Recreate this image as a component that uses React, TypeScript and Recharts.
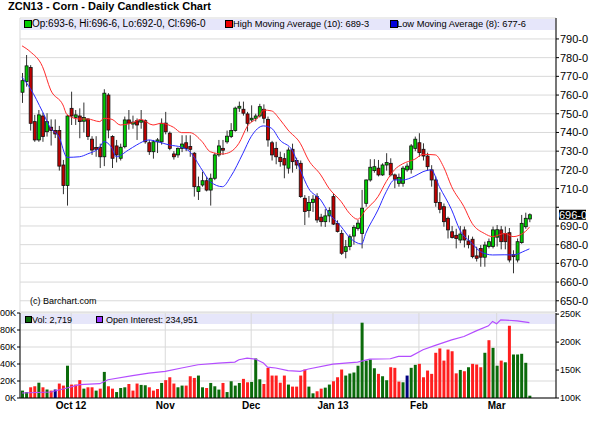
import React from 'react';
import { ComposedChart, Bar, Line, XAxis, YAxis, CartesianGrid, ReferenceLine, Cell } from 'recharts';

const FONT = '"Liberation Sans", Arial, sans-serif';

// daily OHLC (cents/bu, decimals = eighths)
const opens = [
  761.5, 767.2, 774.7, 745.8, 736, 748.8, 740.4, 742.8, 741, 741,
  722.6, 711.6, 752.9, 748, 748.8, 746, 747.2, 736.4, 732, 732.1,
  727, 760, 737.8, 732.8, 726.2, 732.4, 746.7, 744.5, 746.3, 745.5,
  746.3, 734.5, 729.7, 735, 735, 745, 739.6, 728.5, 728, 731.5,
  734.5, 732.5, 728.9, 708.4, 711.9, 714.2, 709.2, 715.5, 728, 731.5,
  735, 737.8, 741, 753, 752.4, 749.9, 746.7, 747.6, 748.8, 752.4,
  747, 734.5, 731.5, 726.7, 726, 720.9, 731, 725, 723.5, 704.8,
  698.2, 702.5, 705.7, 694.7, 692.3, 695.4, 705.7, 691.4, 686, 676.3,
  679, 684.6, 688.7, 686, 702.1, 714.6, 719.6, 720.9, 717.3, 722.6,
  723.5, 717.3, 712.8, 712.8, 720, 720.3, 731.5, 734.5, 731, 727.4,
  720, 714.6, 702.5, 700.3, 694.1, 686.9, 685, 682.5, 687.9, 682,
  682.9, 674, 678, 673.3, 679, 679, 684, 687.9, 686, 686.4,
  674.6, 671.8, 681.1, 689.6, 693.75,
];
const highs = [
  771.8, 781.4, 776, 749.4, 752, 750.5, 750.3, 747, 747, 743.5,
  725.3, 749.4, 761.8, 752, 752.9, 756, 747.6, 738, 738, 734,
  763.1, 761, 738.5, 736, 734, 748.5, 752, 749, 747.5, 752,
  747, 736, 736, 737, 747.5, 751, 740.5, 730, 732, 738.5,
  738.5, 738.5, 729.5, 716.4, 719, 716.4, 718, 729, 736, 736,
  741, 745, 753.8, 756.5, 756.5, 751, 754.5, 750, 755.3, 755,
  748.5, 735.5, 735, 729.7, 728.9, 732, 734, 726.5, 725, 706.5,
  706, 706.5, 707.5, 696.5, 699, 700, 707.5, 693, 687.9, 682.5,
  685.5, 690.5, 693.2, 709.3, 714.8, 725.7, 725.7, 725.3, 723.5, 728.9,
  726.2, 718, 718, 722, 723.5, 733.8, 737.8, 739.6, 734.2, 729.2,
  722.5, 716.5, 708, 702, 695, 690, 688.5, 690, 689.7, 685,
  684.3, 678.9, 679.8, 681.6, 683.3, 689.7, 690.5, 690, 689.7, 688.9,
  677, 683.3, 695.9, 697.1, 696.75,
];
const lows = [
  755.8, 764.5, 741, 735, 735, 735, 737.8, 733, 737, 719.6,
  707, 700.9, 744, 744, 736.9, 740, 736, 728, 727, 721,
  722, 736.9, 721, 724, 725, 731.5, 741.5, 742, 736, 742,
  734, 728, 726, 729, 733.5, 739, 730.5, 725.5, 726.5, 729.5,
  730, 727, 705.7, 703.9, 711, 708.5, 700.9, 714.5, 727, 728,
  734, 737, 740.4, 751, 749, 740.5, 745.5, 745.9, 748, 744.9,
  732.4, 725, 723, 721.7, 715.5, 718, 718.5, 720.5, 705, 690.5,
  694.5, 697.5, 691.7, 689.7, 689.5, 692, 690.5, 686.5, 674.5, 672.7,
  677, 680, 687.5, 678, 700.3, 713.7, 718.5, 716.5, 716.8, 719.6,
  716.5, 710.2, 711, 711, 719, 718, 730, 727, 725, 719.6,
  711, 700.3, 696.8, 689.6, 683.3, 683.3, 678, 680.8, 678.5, 678,
  672.7, 671, 668.2, 668.2, 678, 678, 679, 677.5, 677.5, 670.5,
  664.7, 670.5, 680.5, 688.5, 692,
];
const closes = [
  767.7, 775.6, 744.9, 736, 749.4, 737.8, 745.8, 741, 739.2, 722,
  711.6, 748.8, 748.8, 749.4, 745.8, 748, 737.8, 730.6, 731, 727,
  761, 741.3, 726.2, 728, 732.1, 746.7, 744.9, 745.5, 744, 746.5,
  735, 729.7, 735, 736, 744.9, 740.4, 731.5, 727, 731.5, 733.8,
  731.5, 731, 711, 711, 714.2, 709.2, 715.5, 728, 732.8, 730.5,
  738, 741, 753, 754, 750.3, 744.9, 747.6, 748.8, 753.8, 747.6,
  736, 728, 727, 724.4, 722.6, 730.6, 724.4, 722.6, 705.7, 697.7,
  702.5, 704.3, 693.2, 692.3, 695.4, 698.2, 691, 687, 675.4, 678.9,
  684.3, 689.3, 691.5, 699.5, 714.6, 721.4, 721.7, 717.3, 722.6, 723.9,
  717.3, 715, 716, 720.9, 722, 732.8, 736.4, 729.2, 727.4, 721.7,
  714.6, 702.5, 698.9, 692.3, 687.9, 683.8, 683.3, 685.7, 682.5, 680,
  673.6, 672.7, 673.3, 679.8, 681.6, 687.9, 688, 681.6, 681.6, 671.8,
  673.6, 681.6, 691.4, 694.1, 696,
];

// volume in thousands, direction g/r/n
const volumes = [
  8.7, 7, 12.6, 13.8, 18, 12.6, 10, 8.7, 10, 17,
  14.6, 38, 15.8, 15.8, 21, 11, 12.6, 12.6, 8.7, 11,
  30.7, 13.8, 11, 7, 11.8, 12.6, 16.5, 8.7, 17, 15.4,
  15, 12.6, 8.7, 10.6, 17.7, 21, 24.4, 17, 12.6, 14.6,
  14.6, 25.6, 23.6, 26.4, 12.6, 11.8, 17.7, 13.8, 9.9, 17.7,
  7, 19.7, 14.6, 17.7, 22.5, 18.5, 18.9, 46.5, 22, 16.5,
  35.5, 26.4, 26.4, 18, 26.4, 15.8, 13.4, 13.4, 26.4, 33.5,
  13.4, 5.5, 7.9, 11, 12.2, 15.8, 19.7, 24.4, 33.5, 26.4,
  28.8, 30, 38, 88.6, 44, 45.3, 35, 28.4, 25.6, 20.9,
  36.2, 35.5, 19.3, 18.5, 26.4, 35.5, 39, 40.2, 24.4, 32.3,
  28.4, 53.2, 58.3, 44, 57, 55, 29, 33, 31.5, 36.2,
  40.2, 39.4, 36.2, 53.2, 68, 59, 38, 44, 42, 85,
  51.2, 51.2, 52, 41.4, 2.719,
];
const volDir = (
  'ggrrgrgrnr' + 'rgrrrgrrgr' + 'grrgggrrrg' + 'grrrgrrrgg' + 'rrrggrgggr' +
  'ggggrrgggr' + 'rrrrrgrrrr' + 'ggrrggrrrg' + 'gggggggrgg' + 'rrrgnggrrr' +
  'rrrrrrrgrg' + 'rrrgrggrgr' + 'ggggg'
).split('');

// moving averages and open interest read at sample days: [day, value]
const hmaPts = [
  [1, 786.3], [3, 783.2], [6, 775.2], [8, 762.7], [11, 754.7], [12, 749.5], [15, 747.2], [17, 747.2],
  [20, 745.8], [21, 747.6], [23, 747], [25, 744], [28, 745.2], [30, 747], [33, 744], [35, 744.9],
  [38, 742.8], [40, 739.9], [42, 739.9], [45, 735.1], [47, 729.7], [50, 728.5], [52, 729.7], [54, 734.2],
  [56, 743.1], [59, 748.8], [60, 752], [62, 751.5], [64, 747], [66, 741.3], [69, 734.2], [71, 725.3],
  [74, 717.3], [76, 710.2], [79, 703], [81, 696.8], [83, 693.6], [85, 698.6], [88, 705.7], [90, 713.7],
  [92, 720], [94, 723.2], [97, 725.7], [99, 728.3], [102, 728], [104, 721.7], [106, 711], [109, 700.3],
  [111, 691.4], [114, 686], [116, 684.3], [119, 686], [121, 684.3], [124, 687], [125, 689.375],
];
const lmaPts = [
  [1, 769.5], [3, 763.6], [6, 751.1], [8, 742.2], [10, 737.8], [12, 726.7], [15, 727], [17, 728.5],
  [20, 732.1], [21, 735.1], [23, 731.5], [24, 727], [27, 730.6], [29, 733.3], [32, 736], [34, 735.1],
  [37, 733.3], [40, 732.1], [42, 729.7], [45, 720], [47, 713.7], [50, 711], [52, 716.4], [55, 728.9],
  [57, 737.8], [60, 743.5], [62, 742.2], [64, 736], [67, 730.6], [69, 720], [71, 710.2], [74, 703.9],
  [76, 696.8], [79, 689.6], [81, 684], [84, 680.4], [85, 686], [88, 698.6], [90, 708.3], [92, 714.6],
  [94, 714.6], [97, 716.7], [99, 719], [101, 720], [103, 711], [106, 698.6], [108, 687.9], [111, 680.7],
  [113, 676.3], [116, 674.5], [119, 674.6], [121, 674.5], [124, 676.8], [125, 677.75],
];
const oiPts = [
  [1, 108.9], [8, 110.7], [12, 117.9], [15, 123.8], [20, 125.6], [22, 132.7], [28, 139.9], [32, 144.6],
  [36, 147.6], [40, 153.6], [44, 159.5], [49, 162.5], [53, 164.3], [54, 168.4], [56, 171.4], [58, 169.6],
  [60, 162.5], [61, 155.3], [63, 153.6], [66, 148.8], [69, 147.6], [71, 151.8], [77, 160.7], [83, 164.3],
  [86, 169.6], [91, 170.2], [93, 174.4], [96, 174.4], [99, 186.3], [102, 194], [106, 204], [109, 210],
  [112, 220], [115, 229], [116, 236.9], [117, 232.7], [118, 239.8], [122, 238], [125, 234.951],
];

const monthTicks = [13, 36, 57, 77, 98, 117];
const monthLabels = ['Oct 12', 'Nov', 'Dec', 'Jan 13', 'Feb', 'Mar'];
const priceTicks = [650, 660, 670, 680, 690, 700, 710, 720, 730, 740, 750, 760, 770, 780, 790];
const volTicks = [0, 20, 40, 60, 80, 100];
const oiTicks = [100, 150, 200, 250];

const rows: any[] = opens.map((o, k) => ({
  i: k + 1, o, h: highs[k], l: lows[k], c: closes[k], range: [lows[k], highs[k]],
  vol: volumes[k], dir: volDir[k], hma: null, lma: null, oi: null,
}));
hmaPts.forEach(([d, v]) => { rows[d - 1].hma = v; });
lmaPts.forEach(([d, v]) => { rows[d - 1].lma = v; });
oiPts.forEach(([d, v]) => { rows[d - 1].oi = v; });

const last = rows[rows.length - 1];
const eighths = (v: number) => `${Math.floor(v)}-${Math.round((v - Math.floor(v)) * 8)}`;
const volColor: Record<string, string> = { g: '#0b6b0b', r: '#ff1f1f', n: '#000080' };

const Candle = (props: any) => {
  const { x, y, width, height, payload } = props;
  const top0 = height < 0 ? y + height : y;
  const hh = Math.abs(height);
  const { o, h, l, c } = payload;
  const k = h === l ? 0 : hh / (h - l);
  const cx = x + width / 2;
  const bTop = top0 + (h - Math.max(o, c)) * k;
  const bBot = top0 + (h - Math.min(o, c)) * k;
  const up = c >= o;
  return (
    <g>
      <line x1={cx} x2={cx} y1={top0} y2={top0 + hh} stroke="#333" strokeWidth={1} />
      <rect x={cx - 1.5} y={bTop} width={3} height={Math.max(bBot - bTop, 1)}
        fill={up ? '#00cc00' : '#c00000'} stroke="#111" strokeWidth={0.8} />
    </g>
  );
};

const PriceTick = (props: any) => {
  const { x, y, payload } = props;
  if (payload.value === 700) return <g />;
  return (
    <text x={x} y={y} dy={4} fontSize={11} fontFamily={FONT} fill="#000" textAnchor="start">
      {`${payload.value}-0`}
    </text>
  );
};

const LastLabel = (props: any) => {
  const vb = props.viewBox || {};
  const x = (vb.x ?? 20) + (vb.width ?? 536);
  const y = vb.y ?? 0;
  return (
    <g>
      <rect x={x + 3} y={y - 5} width={27} height={10} fill="#000" />
      <text x={x + 3} y={y + 4} fontSize={11} fontFamily={FONT} fill="#fff">{eighths(last.c)}</text>
    </g>
  );
};

const sq = (color: string, left: number, top: number, size = 6) => (
  <div style={{ position: 'absolute', left, top, width: size, height: size, background: color, border: '1px solid #000' }} />
);

const txt = (s: string, left: number, top: number, size: number, extra: any = {}) => (
  <div style={{ position: 'absolute', left, top, fontSize: size, lineHeight: `${Math.round(size) + 1}px`, whiteSpace: 'nowrap', color: '#000', ...extra }}>{s}</div>
);

export default function App() {
  return (
    <div style={{ position: 'absolute', left: 0, top: 0, width: 591, height: 448, background: '#fff', fontFamily: FONT, overflow: 'hidden' }}>
      {/* legend strips sit under the plots */}
      <div style={{ position: 'absolute', left: 21, top: 19, width: 535, height: 11, background: '#e6e6fa' }} />
      <div style={{ position: 'absolute', left: 21, top: 314, width: 535, height: 10, background: '#e6e6fa' }} />

      <div style={{ position: 'absolute', left: 0, top: 0 }}>
        <ComposedChart width={591} height={314} data={rows} margin={{ top: 18, right: 0, bottom: 2, left: 20 }}>
          <CartesianGrid yAxisId="p" stroke="#d9d9d9" />
          <XAxis dataKey="i" type="number" domain={[0.5, 131.5]} ticks={monthTicks} interval={0} tick={false} tickLine={false}
            height={0} axisLine={{ stroke: '#000', strokeWidth: 2 }} allowDataOverflow />
          <XAxis xAxisId="top" orientation="top" dataKey="i" type="number" domain={[0.5, 131.5]} tick={false}
            tickLine={false} height={0} axisLine={{ stroke: '#444' }} />
          <YAxis yAxisId="edge" orientation="left" width={0} tick={false} tickLine={false} axisLine={{ stroke: '#000' }} />
          <YAxis yAxisId="p" orientation="right" width={35} domain={[644, 801.2]} ticks={priceTicks} interval={0}
            allowDataOverflow tickSize={3} tickMargin={1} tick={<PriceTick />}
            axisLine={{ stroke: '#000' }} tickLine={{ stroke: '#000' }} />
          <Bar yAxisId="p" dataKey="range" barSize={3} shape={<Candle />} isAnimationActive={false} />
          <Line yAxisId="p" dataKey="hma" type="monotone" stroke="#ff2b2b" strokeWidth={1} dot={false}
            connectNulls isAnimationActive={false} />
          <Line yAxisId="p" dataKey="lma" type="monotone" stroke="#2b2bff" strokeWidth={1} dot={false}
            connectNulls isAnimationActive={false} />
          <ReferenceLine yAxisId="p" y={last.c} stroke="none" label={<LastLabel />} />
        </ComposedChart>
      </div>

      <div style={{ position: 'absolute', left: 0, top: 303 }}>
        <ComposedChart width={591} height={120} data={rows} margin={{ top: 10, right: 0, bottom: 5, left: 0 }}>
          <CartesianGrid yAxisId="vol" stroke="#d9d9d9" />
          <XAxis dataKey="i" type="number" domain={[0.5, 131.5]} ticks={monthTicks} interval={0} height={20}
            tickSize={0} tickMargin={4} tickLine={false} axisLine={{ stroke: '#000' }}
            tickFormatter={(v: number) => monthLabels[monthTicks.indexOf(v)] ?? ''}
            tick={{ fontSize: 10, fontWeight: 'bold', fill: '#000', fontFamily: FONT }} />
          <YAxis yAxisId="vol" orientation="left" width={20} domain={[0, 100]} ticks={volTicks} interval={0}
            tickFormatter={(v: number) => `${v}K`} tickSize={3} tickMargin={1}
            tick={{ fontSize: 9, fill: '#000', fontFamily: FONT }} axisLine={{ stroke: '#000' }} tickLine={{ stroke: '#000' }} />
          <YAxis yAxisId="oi" orientation="right" width={35} domain={[100, 252]} ticks={oiTicks} interval={0}
            tickFormatter={(v: number) => `${v}K`} tickSize={3} tickMargin={1}
            tick={{ fontSize: 9, fill: '#000', fontFamily: FONT }} axisLine={{ stroke: '#000' }} tickLine={{ stroke: '#000' }} />
          <Bar yAxisId="vol" dataKey="vol" barSize={3} isAnimationActive={false}>
            {rows.map((r, k) => <Cell key={k} fill={volColor[r.dir]} />)}
          </Bar>
          <Line yAxisId="oi" dataKey="oi" type="linear" stroke="#b44dff" strokeWidth={1.2} dot={false}
            connectNulls isAnimationActive={false} />
        </ComposedChart>
      </div>

      {txt('ZCN13 - Corn - Daily Candlestick Chart', 8, 0, 11, { fontWeight: 'bold', lineHeight: '13px' })}

      {sq('#00cc00', 24, 20)}
      {txt(`Op:${eighths(last.o)}, Hi:${eighths(last.h)}, Lo:${eighths(last.l)}, Cl:${eighths(last.c)}`, 32, 18, 10)}
      {sq('#ee0000', 225, 20)}
      {txt(`High Moving Average (10): ${eighths(last.hma)}`, 233, 18.5, 9.3)}
      {sq('#0000dd', 390, 20)}
      {txt(`Low Moving Average (8): ${eighths(last.lma)}`, 397, 18.5, 9.3)}

      {sq('#0b6b0b', 25, 316, 5)}
      {txt(`Vol: ${Math.round(last.vol * 1000).toLocaleString('en-US')}`, 32, 315, 9)}
      {sq('#9933ff', 96, 316, 5)}
      {txt(`Open Interest: ${Math.round(last.oi * 1000).toLocaleString('en-US')}`, 106, 315, 9)}

      {txt('(c) Barchart.com', 30, 296, 9)}
    </div>
  );
}
